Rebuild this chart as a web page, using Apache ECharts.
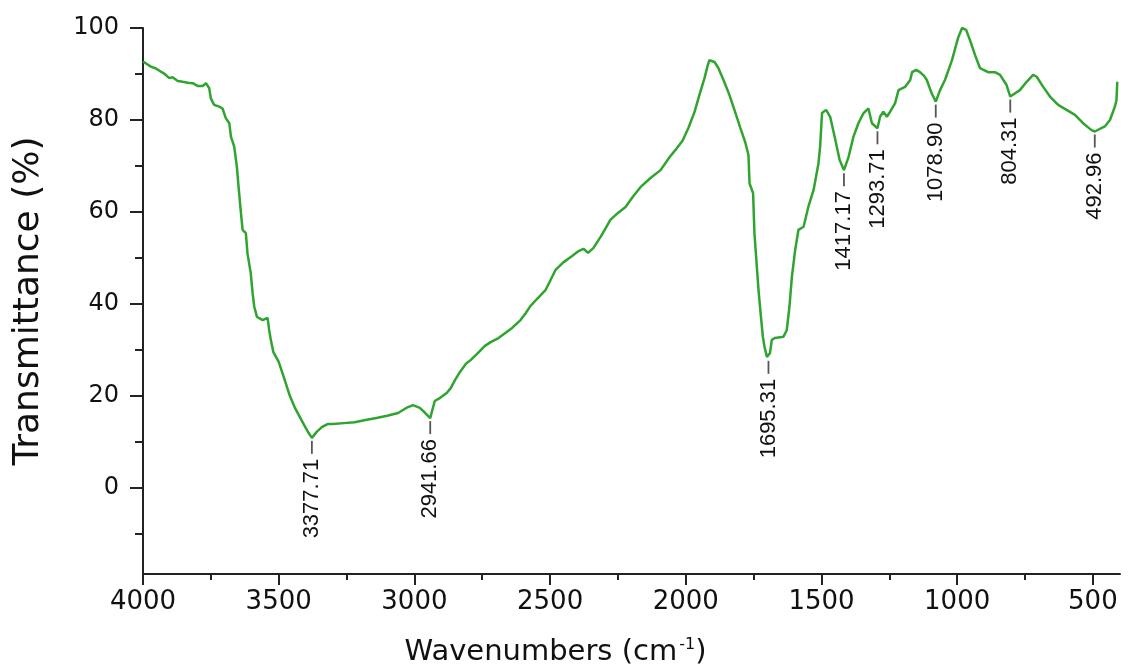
<!DOCTYPE html>
<html><head><meta charset="utf-8">
<script src="https://cdn.jsdelivr.net/npm/echarts@6/dist/echarts.min.js"></script>
<style>html,body{margin:0;padding:0;background:#fff}#c{width:1128px;height:668px}</style>
</head><body><div id="c"></div>
<script>
const wavenumbers = [4000,3989,3971,3952,3934,3922,3903,3891,3872,3854,3835,3817,3799,3780,3768,3756,3750,3738,3719,3707,3695,3682,3676,3664,3654,3649,3639,3633,3621,3615,3603,3596,3590,3580,3559,3541,3535,3529,3520,3500,3480,3460,3440,3420,3400,3390,3377.71,3360,3340,3320,3300,3260,3220,3180,3140,3100,3060,3030,3005,2980,2960,2941.66,2925,2905,2880,2866,2850,2830,2810,2793,2770,2740,2719,2690,2660,2640,2609,2590,2572,2545,2517,2500,2480,2450,2420,2395,2377,2360,2340,2314,2295,2278,2250,2222,2195,2167,2130,2093,2060,2038,2012,1990,1968,1950,1931,1920,1913,1894,1880,1861,1839,1818,1799,1781,1769,1765,1752,1747,1740,1732,1723,1716,1710,1701,1695.31,1690,1683,1672,1640,1628,1618,1609,1597,1585,1566,1548,1529,1511,1505,1498,1483,1468,1449,1433,1417.17,1400,1382,1364,1345,1327,1314,1293.71,1284,1272,1259,1247,1229,1216,1192,1173,1166,1151,1137,1122,1112,1094,1078.90,1063,1045,1019,997,982,967,953,934,916,886,861,842,818,804.31,769,744,720,707,683,658,628,597,566,536,505,492.96,456,437,419,413,410];
const transmittance = [92.7,92.3,91.6,91.2,90.5,90.1,89.1,89.3,88.5,88.3,88.1,88.0,87.4,87.4,88.0,86.9,84.7,83.3,82.9,82.5,80.4,79.3,76.4,74.2,69.8,66.2,59.7,56.1,55.4,51.0,46.7,42.3,39.4,37.2,36.5,37.0,34.3,32.2,29.6,27.4,23.9,20.2,17.4,15.2,13.0,12.0,10.9,12.2,13.3,13.9,13.9,14.1,14.3,14.8,15.2,15.7,16.3,17.4,18.0,17.4,16.3,15.2,18.9,19.6,20.7,21.7,23.5,25.4,27.0,27.8,29.1,30.9,31.7,32.6,33.9,34.8,36.5,38.0,39.6,41.3,43.0,45.0,47.4,49.1,50.4,51.5,52.0,51.1,52.2,54.6,56.5,58.3,59.8,61.1,63.3,65.4,67.4,69.1,71.9,73.5,75.5,78.3,81.7,85.4,89.1,91.7,93.0,92.6,91.3,88.7,85.4,81.7,78.3,75.2,72.4,66.2,64.1,55.4,49.6,43.0,37.2,32.9,30.7,28.5,28.3,29.3,32.2,32.6,32.9,34.3,39.4,45.9,51.7,56.1,56.8,61.2,64.8,70.6,74.2,81.5,82.2,80.7,75.7,71.3,69.1,72.0,76.4,79.3,81.5,82.5,79.3,78.2,80.7,81.8,80.7,81.8,83.6,86.5,87.2,88.7,90.4,90.9,90.4,89.6,88.7,85.8,84.0,86.5,88.7,93.0,97.8,100.0,99.6,97.4,94.1,91.3,90.4,90.4,89.8,87.6,85.1,86.5,88.3,89.8,89.4,87.2,85.1,83.3,82.2,81.1,79.3,77.8,77.5,78.6,80.0,82.9,84.3,88.3];
const peakWavenumbers = [3377.71, 2941.66, 1695.31, 1417.17, 1293.71, 1078.90, 804.31, 492.96];
const xMajorTicks = [4000, 3500, 3000, 2500, 2000, 1500, 1000, 500];
const xMinorTicks = [3750, 3250, 2750, 2250, 1750, 1250, 750];
const yMajorTicks = [0, 20, 40, 60, 80, 100];
const yMinorTicks = [-10, 10, 30, 50, 70, 90];

const lineData = wavenumbers.map((w, i) => [w, transmittance[i]]);
const peakData = peakWavenumbers.map(w => [w, transmittance[wavenumbers.indexOf(w)]]);

const axisColor = '#222';
const plain = v => String(v);
const chart = echarts.init(document.getElementById('c'), null, {renderer: 'canvas'});
chart.setOption({
  animation: false,
  backgroundColor: '#fff',
  grid: {left: 143, right: 8, top: 28, bottom: 94, containLabel: false, outerBoundsMode: 'none'},
  xAxis: [{
    type: 'value', min: 400, max: 4000, inverse: true, position: 'bottom',
    axisLine: {show: true, onZero: false, lineStyle: {color: axisColor, width: 2}},
    axisTick: {show: true, customValues: xMajorTicks, length: 11, lineStyle: {color: axisColor, width: 2}},
    axisLabel: {customValues: xMajorTicks, formatter: plain, margin: 15, color: '#111', fontFamily: 'DejaVu Sans', fontSize: 26},
    splitLine: {show: false},
    name: 'Wavenumbers (cm{sup|-1})',
    nameLocation: 'middle', nameGap: 63,
    nameTextStyle: {color: '#111', fontFamily: 'DejaVu Sans', fontSize: 29, padding: [0, 152, 0, 0],
      rich: {sup: {fontFamily: 'DejaVu Sans', fontSize: 16, verticalAlign: 'top', padding: [0, 0, 14, 2], color: '#111'}}}
  }, {
    type: 'value', min: 400, max: 4000, inverse: true, position: 'bottom',
    axisLine: {show: false, onZero: false},
    axisTick: {show: true, customValues: xMinorTicks, length: 6, lineStyle: {color: axisColor, width: 2}},
    axisLabel: {show: false}, splitLine: {show: false}
  }],
  yAxis: [{
    type: 'value', min: -18.7, max: 100, position: 'left',
    axisLine: {show: true, onZero: false, lineStyle: {color: axisColor, width: 2}},
    axisTick: {show: true, customValues: yMajorTicks, length: 13, lineStyle: {color: axisColor, width: 2}},
    axisLabel: {customValues: yMajorTicks, formatter: plain, margin: 24, color: '#111', fontFamily: 'DejaVu Sans', fontSize: 24},
    splitLine: {show: false},
    name: 'Transmittance (%)', nameLocation: 'middle', nameGap: 96,
    nameTextStyle: {color: '#111', fontFamily: 'DejaVu Sans', fontSize: 36}
  }, {
    type: 'value', min: -18.7, max: 100, position: 'left',
    axisLine: {show: false, onZero: false},
    axisTick: {show: true, customValues: yMinorTicks, length: 8, lineStyle: {color: axisColor, width: 2}},
    axisLabel: {show: false}, splitLine: {show: false}
  }],
  series: [{
    type: 'line', data: lineData, xAxisIndex: 0, yAxisIndex: 0,
    symbol: 'none', lineStyle: {color: '#2fa42f', width: 2.5}, z: 3
  }, {
    type: 'custom', data: peakData, xAxisIndex: 0, yAxisIndex: 0, clip: false, z: 4,
    renderItem: function (params, api) {
      const p = api.coord([api.value(0), api.value(1)]);
      const label = peakWavenumbers[params.dataIndex].toFixed(2);
      return {
        type: 'group',
        children: [{
          type: 'line',
          shape: {x1: p[0], y1: p[1] + 3, x2: p[0], y2: p[1] + 16},
          style: {stroke: '#555', lineWidth: 1.8}
        }, {
          type: 'text', x: p[0], y: p[1] + 21, rotation: Math.PI / 2,
          style: {text: label, align: 'right', verticalAlign: 'middle',
                  font: '22px "Liberation Sans", Arial, sans-serif', fill: '#111'}
        }]
      };
    }
  }]
});
</script>
</body></html>
